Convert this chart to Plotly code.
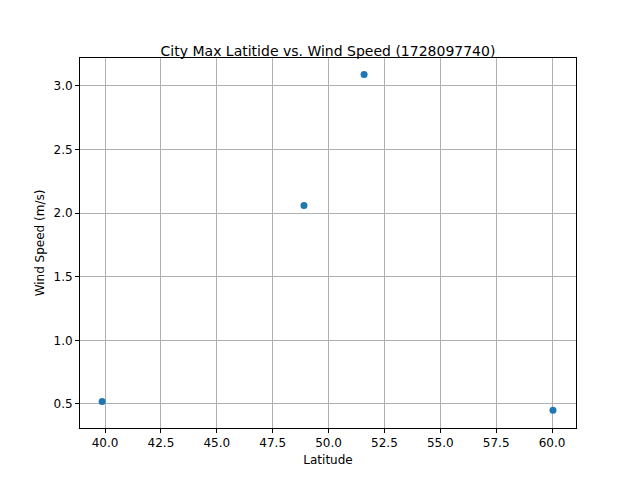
import plotly.graph_objects as go

latitude = [39.87, 48.9, 51.59, 60.04]
wind_speed = [0.52, 2.06, 3.09, 0.45]
x_ticks = [40.0, 42.5, 45.0, 47.5, 50.0, 52.5, 55.0, 57.5, 60.0]
y_ticks = [0.5, 1.0, 1.5, 2.0, 2.5, 3.0]

fig = go.Figure(go.Scatter(
    x=latitude, y=wind_speed, mode="markers",
    marker=dict(color="#1f77b4", size=7),
))

axis_style = dict(
    showgrid=True, gridcolor="#b0b0b0", gridwidth=1,
    showline=True, linecolor="black", mirror=True, linewidth=1,
    ticks="outside", ticklen=4, tickcolor="black", zeroline=False,
    tickfont=dict(size=12, color="black"),
)

fig.update_layout(
    width=640, height=480,
    margin=dict(l=72, r=72, t=50, b=60),
    paper_bgcolor="white", plot_bgcolor="white",
    font=dict(family="DejaVu Sans", color="black"),
    title=dict(text="City Max Latitide vs. Wind Speed (1728097740)",
               x=0.5, xanchor="center", y=0.91, yanchor="middle",
               font=dict(size=14)),
    showlegend=False,
    xaxis=dict(range=[38.88, 61.07], tickvals=x_ticks,
               ticktext=[f"{v:.1f}" for v in x_ticks],
               title=dict(text="Latitude", font=dict(size=12), standoff=6),
               **axis_style),
    yaxis=dict(range=[0.311, 3.22], tickvals=y_ticks,
               ticktext=[f"{v:.1f}" for v in y_ticks],
               title=dict(text="Wind Speed (m/s)", font=dict(size=12), standoff=6),
               **axis_style),
)

fig.write_html("out.html")
